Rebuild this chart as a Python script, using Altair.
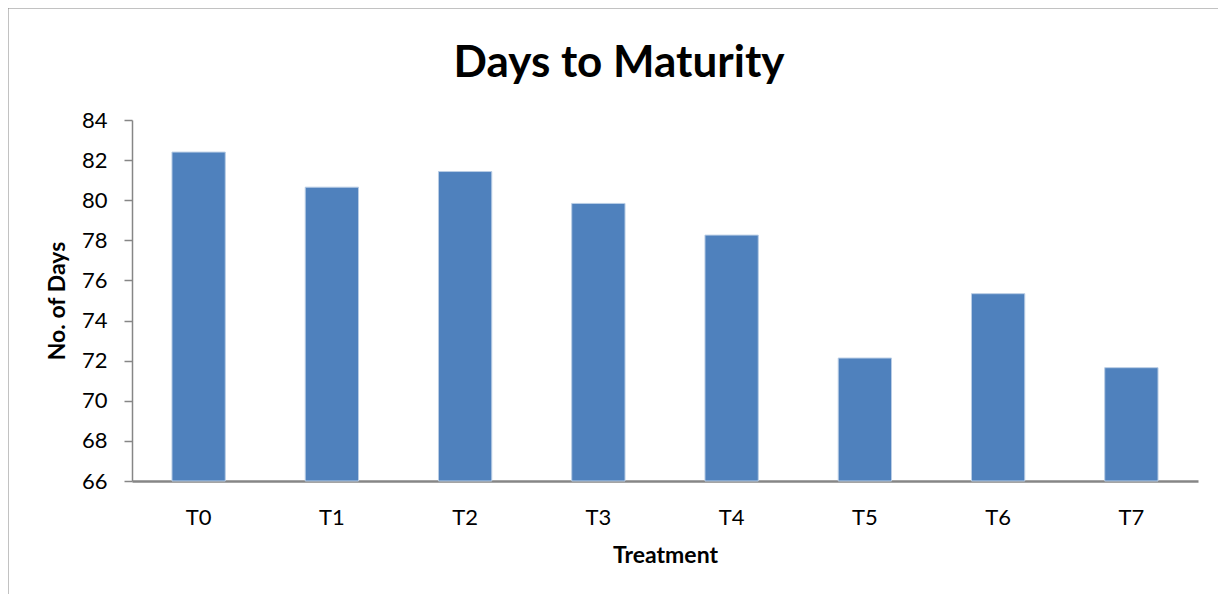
import altair as alt
import pandas as pd

treatments = ["T0", "T1", "T2", "T3", "T4", "T5", "T6", "T7"]
days = [82.4, 80.65, 81.43, 79.84, 78.26, 72.13, 75.34, 71.65]
y_ticks = [66, 68, 70, 72, 74, 76, 78, 80, 82, 84]
y_min, y_max = 66, 84

df = pd.DataFrame({"Treatment": treatments, "Days": days})

FONT = "Lato"
GREY = "#868686"

bars = alt.Chart(df).mark_bar(color="#4F81BD", stroke="#B9CDE5", strokeWidth=1).encode(
    x=alt.X(
        "Treatment:N",
        sort=treatments,
        scale=alt.Scale(paddingInner=0.6, paddingOuter=0.3),
        axis=alt.Axis(
            title="Treatment",
            labelAngle=0,
            ticks=False,
            labelPadding=26,
            labelFontSize=22,
            labelFont=FONT,
            labelColor="#000000",
            titleFont=FONT,
            titleFontSize=23,
            titleFontWeight="bold",
            titleColor="#000000",
            titlePadding=16,
            domainColor=GREY,
            domainWidth=2.5,
            grid=False,
        ),
    ),
    y=alt.Y(
        "Days:Q",
        scale=alt.Scale(domain=[y_min, y_max], nice=False, zero=False),
        axis=alt.Axis(
            title="No. of Days",
            values=y_ticks,
            tickSize=8,
            tickColor=GREY,
            tickWidth=1.5,
            labelPadding=17,
            labelFontSize=22,
            labelFont=FONT,
            labelColor="#000000",
            titleFont=FONT,
            titleFontSize=23,
            titleFontWeight="bold",
            titleColor="#000000",
            titlePadding=12,
            domainColor=GREY,
            domainWidth=1.5,
            grid=False,
        ),
    ),
    y2=alt.datum(y_min),
)

border = alt.Chart(pd.DataFrame({"k": [0]})).mark_rect(
    fill=None, stroke=GREY, strokeWidth=1
).encode(
    x=alt.value(-124),
    x2=alt.value(1094),
    y=alt.value(-112),
    y2=alt.value(640),
)

chart = alt.layer(border, bars).properties(
    width=1066,
    height=361,
    background="#ffffff",
    title=alt.TitleParams(
        text="Days to Maturity",
        font=FONT,
        fontSize=44,
        fontWeight="bold",
        color="#000000",
        anchor="middle",
        frame="group",
        dx=-46,
        offset=-78,
    ),
    padding={"left": 124, "top": 112, "right": 20, "bottom": 113},
    autosize=alt.AutoSizeParams(type="none"),
).configure_view(strokeOpacity=0, strokeWidth=0)

chart.save("out.html", embed_options={"renderer": "svg", "actions": False})
